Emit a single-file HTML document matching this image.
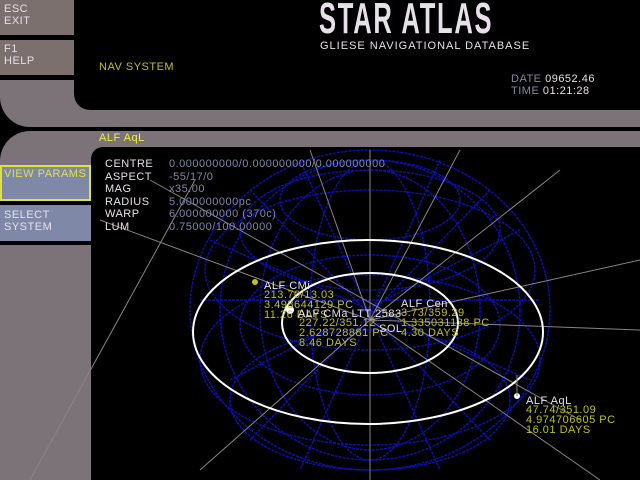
<!DOCTYPE html>
<html><head><style>
body{margin:0;width:640px;height:480px;background:#000;overflow:hidden;position:relative;font-family:"Liberation Sans",sans-serif;}
div{position:absolute;}
.g{background:#7b7377;}
.t{font-size:11px;line-height:12px;color:#e8e0e8;white-space:pre;letter-spacing:0.5px;}
</style></head><body>
<div class="g" style="left:0;top:0;width:74px;height:35px;background:#7c706f"></div>
<div class="t" style="left:4px;top:3px">ESC<br>EXIT</div>
<div class="g" style="left:0;top:40px;width:74px;height:35px;background:#7c706f"></div>
<div class="t" style="left:4px;top:43px">F1<br>HELP</div>
<div class="g" style="left:0;top:80px;width:74px;height:47px;border-radius:0 0 0 30px"></div>
<div class="g" style="left:74px;top:80px;width:566px;height:47px"></div>
<div style="left:74px;top:0;width:566px;height:110px;background:#000;border-radius:0 0 0 16px"></div>
<div style="left:0;top:127px;width:640px;height:4px;background:#000"></div>
<div class="g" style="left:0;top:131px;width:640px;height:34px;border-radius:30px 0 0 0"></div>
<div style="left:91px;top:147px;width:549px;height:333px;background:#000;border-radius:12px 0 0 0"></div>
<div style="left:0;top:165px;width:87px;height:32px;background:#8088a8;border:2px solid #e0e040"></div>
<div class="t" style="left:4px;top:168px;color:#e0e040">VIEW PARAMS</div>
<div style="left:0;top:205px;width:91px;height:36px;background:#8088a8"></div>
<div class="t" style="left:4px;top:209px">SELECT<br>SYSTEM</div>
<div class="g" style="left:0;top:245px;width:91px;height:235px"></div>
<div style="left:319px;top:-3px;font-size:44px;line-height:44px;color:#e8e0e8;font-weight:bold;transform:scaleX(0.58);transform-origin:0 0;letter-spacing:3px">STAR ATLAS</div>
<div class="t" style="left:320px;top:40px;letter-spacing:1px">GLIESE NAVIGATIONAL DATABASE</div>
<div class="t" style="left:99px;top:61px;color:#c0c020">NAV SYSTEM</div>
<div class="t" style="left:511px;top:73px;color:#8088a8">DATE <span style="color:#e8e0e8">09652.46</span></div>
<div class="t" style="left:511px;top:85px;color:#8088a8">TIME <span style="color:#e8e0e8">01:21:28</span></div>
<div class="t" style="left:99px;top:132px;color:#f0f040">ALF AqL</div>
<svg style="position:absolute;left:0;top:0" width="640" height="480">
<g stroke="#0a10a8" fill="none" stroke-width="1.5" stroke-dasharray="3 1">
<ellipse cx="370" cy="310" rx="180" ry="160"/>
<ellipse cx="370" cy="310" rx="150" ry="150"/>
<ellipse cx="370" cy="310" rx="110" ry="140"/>
<ellipse cx="370" cy="310" rx="60" ry="150"/>
<ellipse cx="370" cy="200" rx="90" ry="40"/>
<ellipse cx="370" cy="230" rx="130" ry="60"/>
<ellipse cx="370" cy="270" rx="165" ry="80"/>
<ellipse cx="370" cy="360" rx="170" ry="85"/>
<ellipse cx="370" cy="400" rx="140" ry="70"/>
<ellipse cx="370" cy="325" rx="130" ry="70"/>
<path d="M200 300 L540 300 M210 240 L530 380 M230 380 L520 230 M300 160 L440 470 M440 160 L300 470 M250 190 L490 440 M490 190 L250 440"/>
</g>
<g stroke="#8a8288" stroke-width="1" fill="none">
<path d="M370 150 V480 M150 180 L580 420 M100 220 L370 320 M640 330 L370 320 M640 260 L370 320 M200 470 L370 320 M310 150 L370 320 M460 150 L370 320 M370 320 L560 170 M370 320 L600 480 M195 180 L30 480"/>
</g>
<ellipse cx="368" cy="332" rx="175" ry="92" stroke="#fff" stroke-width="2" fill="none"/>
<ellipse cx="370" cy="323" rx="88" ry="50" stroke="#fff" stroke-width="2" fill="none"/>
<circle cx="255" cy="282" r="3" fill="#c0c020"/>
<circle cx="290" cy="310" r="4" fill="#fff"/>
<circle cx="517" cy="396" r="3" fill="#fff"/>
<path d="M517 396 V375" stroke="#8a8288"/>
</svg>
<div class="t" style="left:105px;top:158px;line-height:12.5px">CENTRE<br>ASPECT<br>MAG<br>RADIUS<br>WARP<br>LUM</div>
<div class="t" style="left:169px;top:158px;line-height:12.5px;color:#8088a8">0.000000000/0.000000000/0.000000000<br>-55/17/0<br>x35.00<br>5.000000000pc<br>6.000000000 (370c)<br>0.75000/100.00000</div>
<div class="t" style="left:264px;top:280px">ALF CMi</div>
<div class="t" style="left:264px;top:290px;color:#c0c020;line-height:10px">213.70/13.03<br>3.498644129 PC<br>11.26 DAYS</div>
<div class="t" style="left:298px;top:308px">ALF CMa LTT 2583</div>
<div class="t" style="left:299px;top:318px;color:#c0c020;line-height:10px">227.22/351.12<br>2.628728881 PC<br>8.46 DAYS</div>
<div class="t" style="left:401px;top:298px">ALF Cen</div>
<div class="t" style="left:401px;top:308px;color:#c0c020;line-height:10px">3.73/359.29<br>1.335031138 PC<br>4.30 DAYS</div>
<div class="t" style="left:379px;top:323px">SOL</div>
<div class="t" style="left:526px;top:395px">ALF AqL</div>
<div class="t" style="left:526px;top:405px;color:#c0c020;line-height:10px">47.74/351.09<br>4.974706605 PC<br>16.01 DAYS</div>
</body></html>
